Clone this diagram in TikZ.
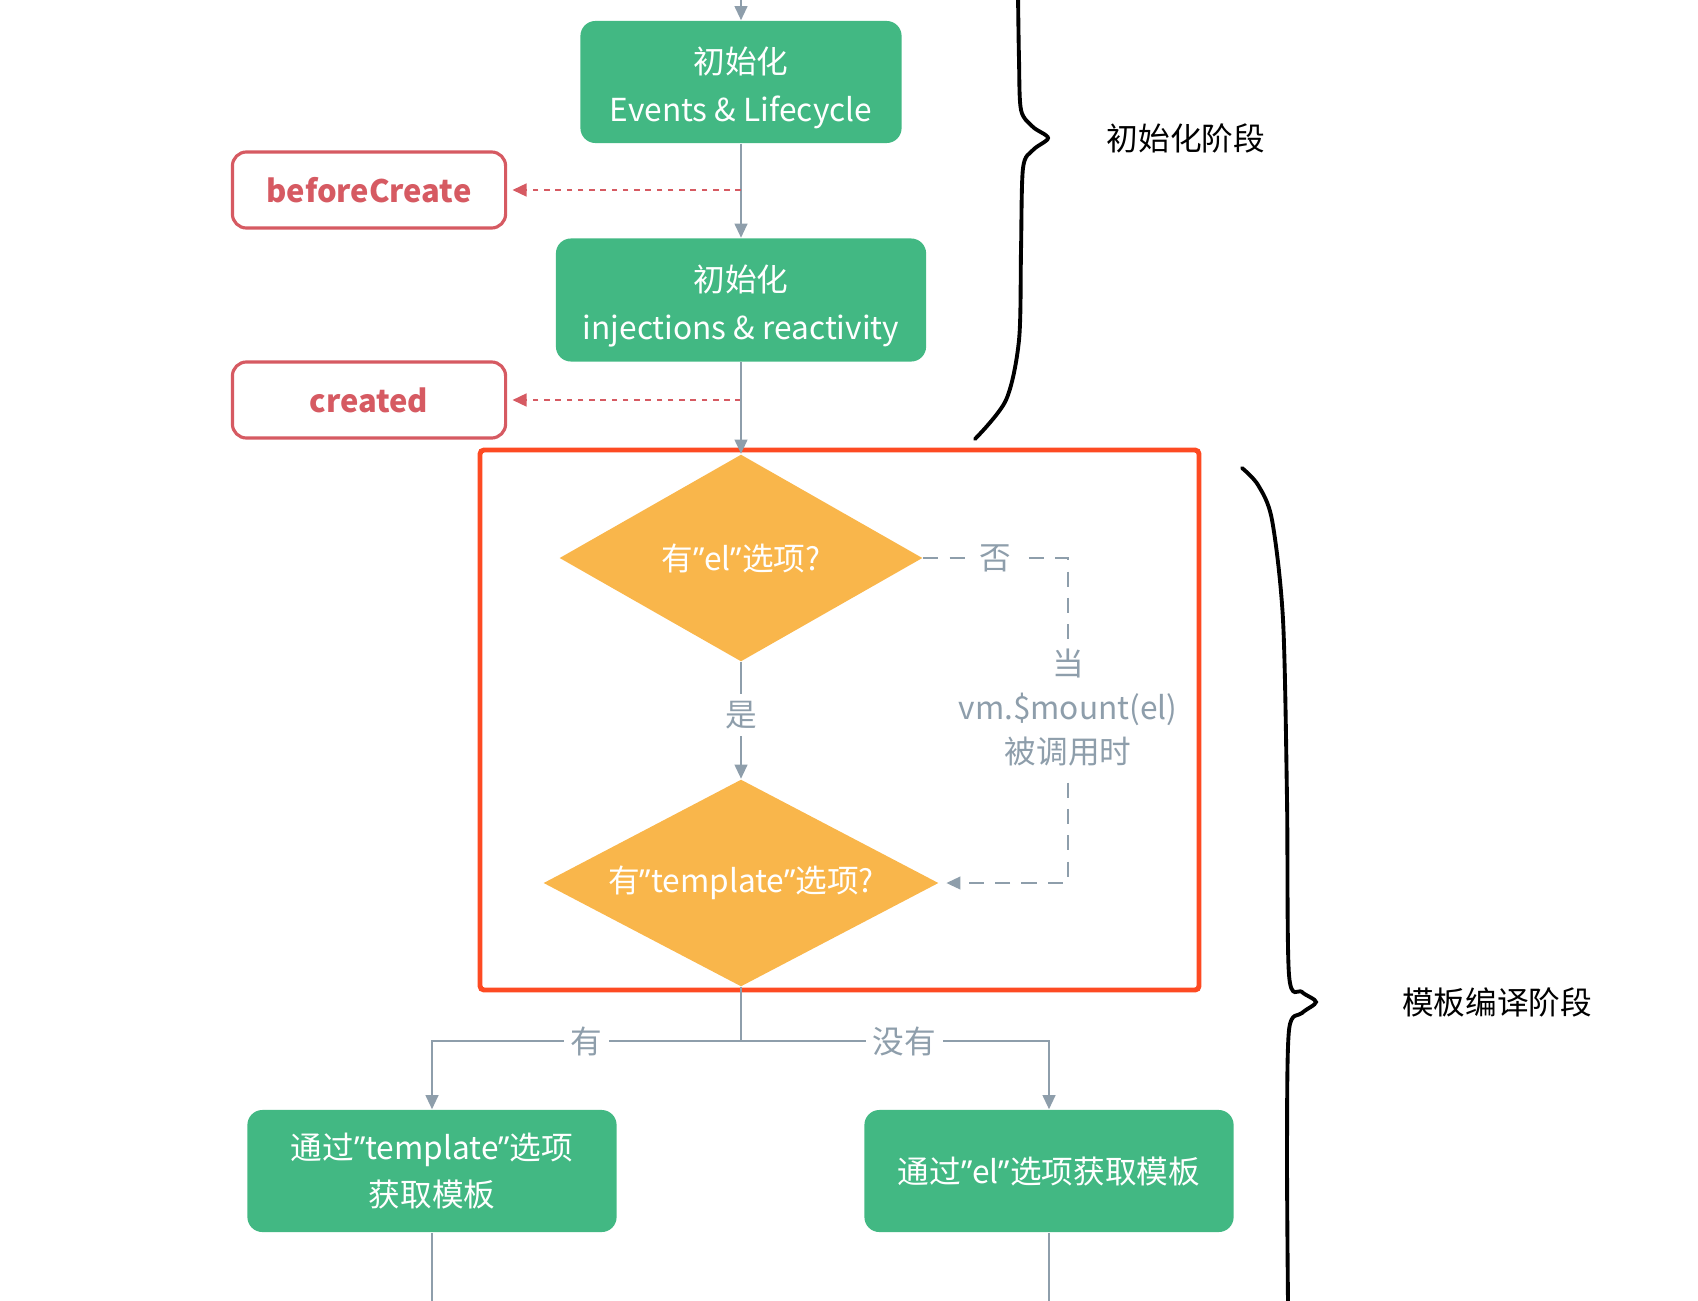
\documentclass[tikz,border=0pt]{standalone}
\usepackage{fontspec}
\setmainfont{Noto Sans CJK SC}
\newfontfamily\quotefont{Noto Sans}
\newcommand\cq{{\quotefont ”}}
\newcommand\upline{\rule{0pt}{11pt}}
\usetikzlibrary{shapes.geometric,arrows.meta}
\definecolor{vuegreen}{HTML}{42B883}
\definecolor{hookred}{HTML}{D65A62}
\definecolor{askorange}{HTML}{F9B64B}
\definecolor{linegray}{HTML}{8E9EAB}
\definecolor{framered}{HTML}{FD4A22}

\begin{document}
\begin{tikzpicture}[x=0.01cm,y=-0.01cm,
  stage/.style={rectangle,rounded corners=0.15cm,fill=vuegreen,text=white,align=center,
    inner sep=0pt,font=\fontsize{9}{13.5}\selectfont},
  hook/.style={rectangle,rounded corners=0.14cm,draw=hookred,line width=0.9pt,fill=white,
    text=hookred,minimum width=2.73cm,minimum height=0.76cm,font=\fontsize{8.8}{11}\selectfont\bfseries},
  ask/.style={diamond,shape aspect=1.8,fill=askorange,text=white,inner sep=0pt,
    font=\fontsize{9}{11}\selectfont},
  flow/.style={draw=linegray,line width=0.6pt,-{Triangle[length=4pt,width=3.6pt]}},
  hookflow/.style={draw=hookred,line width=0.7pt,dash pattern=on 1.6pt off 1.6pt,
    -{Triangle[length=4pt,width=3.6pt]},shorten >=1.5pt},
  tag/.style={fill=white,text=linegray,inner sep=2pt,align=center,font=\fontsize{9}{12.5}\selectfont},
  phase/.style={text=black,font=\fontsize{9}{11}\selectfont},
  brace/.style={black,line width=1.1pt,line cap=round}]
  \useasboundingbox (0,0) rectangle (1698,1300);

  % lifecycle init
  \coordinate (entry) at (741,-5);
  \node[stage,minimum width=3.21cm,minimum height=1.22cm] (initev) at (741,82) {\upline 初始化\\Events \& Lifecycle};
  \node[stage,minimum width=3.70cm,minimum height=1.23cm] (initre) at (741,300) {\upline 初始化\\injections \& reactivity};
  \node[hook] (bc) at (369,190) {beforeCreate};
  \node[hook] (cr) at (369,400) {created};

  \draw[flow] (entry) -- (initev);
  \draw[flow] (initev) -- (initre);
  \draw[hookflow] (initev.south |- bc.east) -- (bc.east);
  \draw[hookflow] (initre.south |- cr.east) -- (cr.east);

  % template questions
  \draw[framered,line width=1.4pt,rounded corners=0.04cm] (480,450) rectangle (1199,990);
  \node[ask,minimum width=3.63cm,minimum height=2.07cm] (hasel) at (741,558) {有\cq el\cq 选项?};
  \node[ask,minimum width=3.95cm,minimum height=2.07cm] (hastpl) at (741,883) {有\cq template\cq 选项?};
  \draw[flow] (initre) -- (hasel);
  \draw[flow] (hasel) -- node[tag,pos=0.45] {是} (hastpl);

  \coordinate (no1) at (1068,558);
  \coordinate (no2) at (1068,883);
  \draw[flow,dash pattern=on 4.3pt off 3.2pt,shorten >=2pt] (hasel.east) -- node[tag] {否} (no1)
    -- node[tag,pos=0.46] {当\\vm.\$mount(el)\\被调用时} (no2) -- (hastpl.east);

  % get template
  \node[stage,minimum width=3.69cm,minimum height=1.22cm] (viatpl) at (432,1171) {通过\cq template\cq 选项\\获取模板};
  \node[stage,minimum width=3.69cm,minimum height=1.22cm] (viael) at (1049,1171) {通过\cq el\cq 选项获取模板};
  \coordinate (split) at (741,1041);
  \draw[draw=linegray,line width=0.6pt] (hastpl.south) -- (split);
  \draw[flow] (split) -| node[tag,pos=0.25] {有} (viatpl);
  \draw[flow] (split) -| node[tag,pos=0.265] {没有} (viael);
  \coordinate (out1) at (432,1305);
  \coordinate (out2) at (1049,1305);
  \draw[draw=linegray,line width=0.6pt] (viatpl) -- (out1);
  \draw[draw=linegray,line width=0.6pt] (viael) -- (out2);

  % phases
  \draw[brace] plot[smooth, tension=0.5] coordinates {(1018,-5) (1019,60) (1021,110) (1033,127) (1048,138)
    (1033,150) (1023,168) (1021,250) (1019,340) (1006,400) (975,439)};
  \node[phase] (initphase) at (1186,138) {初始化阶段};
  \draw[brace] plot[smooth, tension=0.5] coordinates {(1242,468) (1258,485) (1272,520) (1283,620)
    (1287,800) (1289,975) (1302,992) (1316,1002) (1302,1013) (1289,1030) (1287,1150) (1288,1305)};
  \node[phase] (tplphase) at (1497,1002) {模板编译阶段};
\end{tikzpicture}
\end{document}
